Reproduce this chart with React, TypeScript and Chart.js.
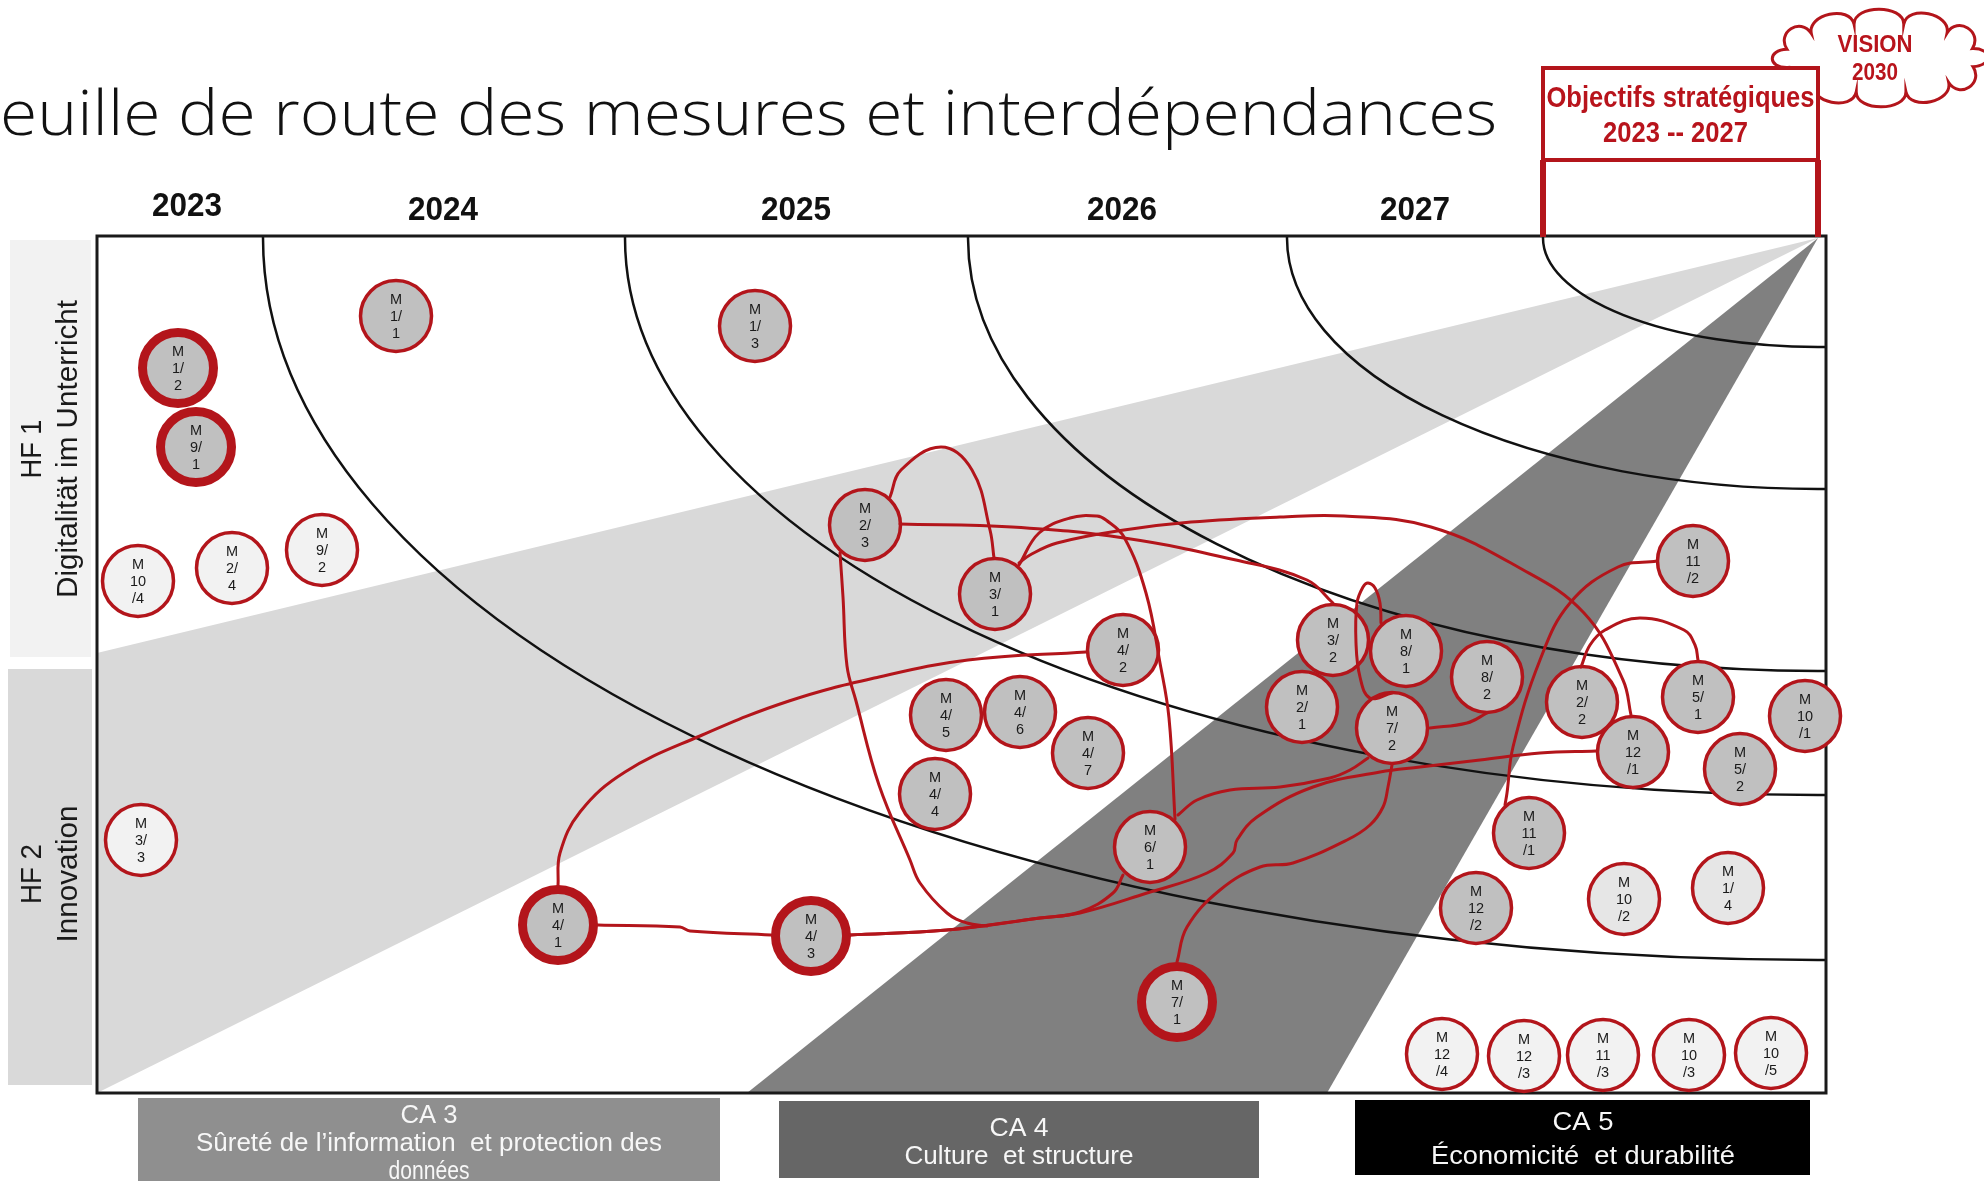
import React, { useEffect, useRef } from 'react';
import { Chart, registerables } from 'chart.js';

Chart.register(...registerables);

const RED = '#b3151b';
const RED_TEXT = '#b8141c';

// ---------- data (plot units: x 0..1729 left→right, y 0..857 top→bottom) ----------
const titleText = 'Feuille de route des mesures et interdépendances';
const titleVisible = 'euille de route des mesures et interdépendances';

const yearLabels = ['2023', '2024', '2025', '2026', '2027'];
const yearPositions = [90, 346, 699, 1025, 1318];
// where each year-ring meets the top edge and the right edge
const arcTopX = [166, 528, 871, 1190, 1446];
const arcRightY = [724, 559, 435, 253, 111];
const apexPoint = [1721, 2];
const lightBeam = [[1721, 2], [0, 417], [0, 857]];
const darkBeam = [[1721, 2], [650, 857], [1230, 857]];

const fieldLabels = [
  ['HF 1', 'Digitalität im Unterricht'],
  ['HF 2', 'Innovation'],
];
const areaLabels = [
  ['CA 3', 'Sûreté de l’information  et protection des', 'données'],
  ['CA 4', 'Culture  et structure'],
  ['CA 5', 'Économicité  et durabilité'],
];
const goalLabels = ['Objectifs stratégiques', '2023 -- 2027'];
const visionLabels = ['VISION', '2030'];

const measureIds = ['1/1', '1/2', '9/1', '10/4', '2/4', '9/2', '1/3', '2/3', '3/1', '4/2',
  '4/5', '4/6', '4/7', '4/4', '6/1', '4/1', '4/3', '7/1', '3/3', '3/2',
  '8/1', '2/1', '7/2', '8/2', '2/2', '12/1', '5/1', '10/1', '5/2', '11/2',
  '11/1', '12/2', '10/2', '1/4', '12/4', '12/3', '11/3', '10/3', '10/5'];
const measureX = [299, 81, 99, 41, 135, 225, 658, 768, 898, 1026,
  849, 923, 991, 838, 1053, 461, 714, 1080, 44, 1236,
  1309, 1205, 1295, 1390, 1485, 1536, 1601, 1708, 1643, 1596,
  1432, 1379, 1527, 1631, 1345, 1427, 1506, 1592, 1674];
const measureY = [80, 132, 211, 345, 332, 314, 90, 289, 358, 414,
  479, 476, 517, 558, 611, 689, 700, 766, 604, 404,
  415, 471, 492, 441, 466, 516, 461, 480, 533, 325,
  597, 672, 663, 652, 818, 820, 819, 819, 817];
// k = key measure (thick ring), b = grey, p = pale, c = light
const measureStatus = ['b', 'k', 'k', 'c', 'c', 'c', 'b', 'b', 'b', 'b',
  'b', 'b', 'b', 'b', 'b', 'k', 'k', 'k', 'c', 'b',
  'b', 'b', 'b', 'b', 'b', 'b', 'b', 'b', 'b', 'b',
  'b', 'b', 'p', 'p', 'c', 'c', 'c', 'c', 'c'];

// dependency links (points along each curve)
const link41to43 = [[501, 689], [583, 691], [593, 695], [674, 699]];
const link41to42 = [[461, 650], [463, 617], [483, 576], [528, 536], [603, 500], [692, 465], [782, 441], [871, 424], [989, 416]];
const link23to31 = [[793, 261], [804, 234], [844, 211], [875, 234], [893, 294], [897, 322]];
const link23to32 = [[803, 288], [915, 291], [1027, 302], [1139, 324], [1210, 344], [1236, 367]];
const link31to121 = [[922, 327], [933, 319], [960, 307], [1027, 294], [1094, 286], [1183, 281], [1247, 280], [1334, 291], [1421, 331], [1487, 377], [1526, 444], [1534, 479]];
const link31to61 = [[922, 329], [942, 297], [973, 282], [1000, 280], [1009, 284], [1027, 301], [1049, 357], [1063, 427], [1072, 482], [1078, 583]];
const link23to43 = [[743, 317], [746, 361], [750, 430], [759, 465], [782, 549], [813, 624], [823, 647], [850, 677], [870, 687], [890, 690]];
const link43to61 = [[753, 699], [850, 694], [943, 682], [983, 676], [1016, 657], [1026, 639]];
const link43to121 = [[753, 699], [850, 694], [943, 682], [983, 677], [1050, 657], [1110, 637], [1136, 617], [1140, 604], [1160, 581], [1216, 551], [1283, 536], [1323, 531], [1383, 524], [1443, 517], [1499, 515]];
const link61to72 = [[1081, 579], [1100, 564], [1133, 554], [1183, 551], [1233, 542], [1253, 534], [1271, 522]];
const link72to71 = [[1295, 529], [1291, 551], [1286, 571], [1273, 589], [1250, 604], [1196, 627], [1163, 631], [1123, 654], [1090, 691], [1080, 726]];
const link82to72 = [[1390, 477], [1370, 487], [1333, 492]];
const link72to81 = [[1295, 457], [1273, 462], [1263, 441], [1259, 407], [1260, 367], [1266, 351], [1271, 347], [1278, 352], [1283, 367], [1284, 387]];
const link22to51 = [[1484, 431], [1493, 409], [1508, 394], [1543, 382], [1587, 394], [1598, 409], [1601, 424]];
const link112to111 = [[1560, 325], [1521, 331], [1473, 367], [1443, 424], [1416, 511], [1410, 557], [1408, 569]];

const dependencyLinks = [link41to43, link41to42, link23to31, link23to32, link31to121, link31to61,
  link23to43, link43to61, link43to121, link61to72, link72to71, link82to72, link72to81, link22to51, link112to111];

// ---------- helpers ----------
const SANS = '"Liberation Sans", Arial, sans-serif';

function fillFor(s: string) {
  if (s === 'c') return '#f2f2f2';
  if (s === 'p') return '#e6e6e6';
  return '#c0c0c0';
}

function measureLines(id: string) {
  const [a, b] = id.split('/');
  return a.length > 1 ? ['M', a, '/' + b] : ['M', a + '/', b];
}

function text(ctx: CanvasRenderingContext2D, s: string, x: number, y: number, font: string, color: string,
  width?: number, align: CanvasTextAlign = 'center', rotate = 0) {
  ctx.save();
  ctx.font = font;
  ctx.fillStyle = color;
  ctx.textAlign = align;
  ctx.textBaseline = 'alphabetic';
  const k = width ? width / ctx.measureText(s).width : 1;
  ctx.translate(x, y);
  if (rotate) ctx.rotate(rotate);
  ctx.scale(k, 1);
  ctx.fillText(s, 0, 0);
  ctx.restore();
}

function cloudPath(ctx: CanvasRenderingContext2D, cx: number, cy: number, rx: number, ry: number, n: number, h: number) {
  ctx.beginPath();
  for (let i = 0; i < n; i++) {
    const a0 = (Math.PI * 2 * i) / n + 0.25;
    const a1 = (Math.PI * 2 * (i + 1)) / n + 0.25;
    const am = (a0 + a1) / 2;
    const x0 = cx + rx * Math.cos(a0), y0 = cy + ry * Math.sin(a0);
    const x1 = cx + rx * Math.cos(a1), y1 = cy + ry * Math.sin(a1);
    let nx = Math.cos(am) / rx, ny = Math.sin(am) / ry;
    const l = Math.hypot(nx, ny);
    nx /= l; ny /= l;
    if (i === 0) ctx.moveTo(x0, y0);
    ctx.bezierCurveTo(x0 + nx * h, y0 + ny * h, x1 + nx * h, y1 + ny * h, x1, y1);
  }
  ctx.closePath();
}

const roadmapPlugin = {
  id: 'roadmap',
  beforeDraw(chart: any) {
    const ctx: CanvasRenderingContext2D = chart.ctx;
    const xs = chart.scales.x;
    ctx.save();
    ctx.fillStyle = '#ffffff';
    ctx.fillRect(0, 0, chart.width, chart.height);

    // title (first letter runs off the page)
    ctx.font = `300 62px "Open Sans", ${SANS}`;
    const k = 1497 / ctx.measureText(titleVisible).width;
    ctx.save();
    ctx.translate(1497, 135);
    ctx.scale(k, 1);
    ctx.fillStyle = '#111';
    ctx.textAlign = 'right';
    ctx.fillText(titleText, 0, 0);
    ctx.restore();

    // year labels
    yearLabels.forEach((y, i) => {
      const cx = xs.getPixelForValue(yearPositions[i]);
      text(ctx, y, cx, i === 0 ? 216 : 220, `bold 34px ${SANS}`, '#111', 70);
    });

    // field panels on the left
    ctx.fillStyle = '#f2f2f2';
    ctx.fillRect(10, 240, 81, 417);
    ctx.fillStyle = '#d9d9d9';
    ctx.fillRect(8, 669, 84, 416);
    const fieldCy = [449, 874];
    const fieldW = [[59, 298], [60, 137]];
    fieldLabels.forEach((lines, i) => {
      text(ctx, lines[0], 41, fieldCy[i], `29px ${SANS}`, '#1a1a1a', fieldW[i][0], 'center', -Math.PI / 2);
      text(ctx, lines[1], 77, fieldCy[i], `29px ${SANS}`, '#1a1a1a', fieldW[i][1], 'center', -Math.PI / 2);
    });

    // cross-cutting areas at the bottom
    const areaRects = [[138, 1098, 582, 90, '#8f8f8f'], [779, 1101, 480, 77, '#666666'], [1355, 1100, 455, 75, '#000000']];
    const areaCx = [429, 1019, 1583];
    const areaBase = [[1123, 1151, 1179], [1136, 1164], [1130, 1164]];
    const areaW = [[57, 466, 81], [59, 229], [61, 304]];
    areaRects.forEach((r: any, i) => {
      ctx.fillStyle = r[4];
      ctx.fillRect(r[0], r[1], r[2], r[3]);
      areaLabels[i].forEach((s, j) => {
        text(ctx, s, areaCx[i], areaBase[i][j], `26px ${SANS}`, '#f7f7f7', areaW[i][j]);
      });
    });

    // vision cloud
    cloudPath(ctx, 1880, 58, 96, 35, 12, 20);
    ctx.fillStyle = '#fff';
    ctx.fill();
    ctx.strokeStyle = RED;
    ctx.lineWidth = 3;
    ctx.stroke();
    text(ctx, visionLabels[0], 1875, 52, `bold 24px ${SANS}`, RED_TEXT, 75);
    text(ctx, visionLabels[1], 1875, 80, `bold 24px ${SANS}`, RED_TEXT, 46);

    // strategic goals box
    const bx0 = xs.getPixelForValue(arcTopX[4]);
    const bx1 = xs.getPixelForValue(apexPoint[0]);
    ctx.fillStyle = '#fff';
    ctx.fillRect(bx0, 68, bx1 - bx0, 92);
    ctx.strokeStyle = RED;
    ctx.lineWidth = 4;
    ctx.strokeRect(bx0, 68, bx1 - bx0, 92);
    text(ctx, goalLabels[0], (bx0 + bx1) / 2, 107, `bold 30px ${SANS}`, RED_TEXT, 268);
    text(ctx, goalLabels[1], (bx0 + bx1) / 2 - 5, 142, `bold 30px ${SANS}`, RED_TEXT, 145);
    ctx.restore();
  },
  beforeDatasetsDraw(chart: any) {
    const ctx: CanvasRenderingContext2D = chart.ctx;
    const xs = chart.scales.x, ys = chart.scales.y;
    const a = chart.chartArea;
    const X = (v: number) => xs.getPixelForValue(v);
    const Y = (v: number) => ys.getPixelForValue(v);
    ctx.save();
    ctx.fillStyle = '#fff';
    ctx.fillRect(a.left, a.top, a.right - a.left, a.bottom - a.top);

    const poly = (pts: number[][], color: string) => {
      ctx.beginPath();
      pts.forEach(([x, y], i) => (i ? ctx.lineTo(X(x), Y(y)) : ctx.moveTo(X(x), Y(y))));
      ctx.closePath();
      ctx.fillStyle = color;
      ctx.fill();
    };
    poly(lightBeam, '#d9d9d9');
    poly(darkBeam, '#808080');

    // year rings: quarter ellipses around the apex
    const cx = X(apexPoint[0]), cy = Y(apexPoint[1]);
    ctx.strokeStyle = '#111';
    ctx.lineWidth = 2.5;
    arcTopX.forEach((tx, i) => {
      const rx = cx - X(tx);
      const ry = Y(arcRightY[i]) - cy;
      ctx.beginPath();
      ctx.moveTo(a.right, cy + ry);
      ctx.lineTo(cx, cy + ry);
      ctx.ellipse(cx, cy, rx, ry, 0, Math.PI / 2, Math.PI);
      ctx.lineTo(cx - rx, a.top);
      ctx.stroke();
    });

    ctx.strokeStyle = '#1a1a1a';
    ctx.lineWidth = 3;
    ctx.strokeRect(a.left, a.top, a.right - a.left, a.bottom - a.top);
    ctx.restore();
  },
  afterDatasetsDraw(chart: any) {
    const ctx: CanvasRenderingContext2D = chart.ctx;
    const meta = chart.getDatasetMeta(chart.data.datasets.length - 1);
    ctx.save();
    ctx.font = `14.5px ${SANS}`;
    ctx.fillStyle = '#1a1a1a';
    ctx.textAlign = 'center';
    ctx.textBaseline = 'middle';
    meta.data.forEach((el: any, i: number) => {
      const lines = measureLines(measureIds[i]);
      lines.forEach((s, j) => ctx.fillText(s, el.x, el.y + 1 + (j - 1) * 17));
    });
    ctx.restore();
  },
  afterDraw(chart: any) {
    const ctx: CanvasRenderingContext2D = chart.ctx;
    const xs = chart.scales.x;
    const a = chart.chartArea;
    const bx0 = xs.getPixelForValue(arcTopX[4]);
    const bx1 = xs.getPixelForValue(apexPoint[0]);
    ctx.save();
    ctx.strokeStyle = RED;
    ctx.lineWidth = 6;
    ctx.beginPath();
    ctx.moveTo(bx0, 160); ctx.lineTo(bx0, a.top + 1);
    ctx.moveTo(bx1, 160); ctx.lineTo(bx1, a.top + 1);
    ctx.stroke();
    ctx.restore();
  },
};

export default function App() {
  const ref = useRef<HTMLCanvasElement>(null);
  useEffect(() => {
    const canvas = ref.current;
    if (!canvas) return;
    const linkSets = dependencyLinks.map((pts, i) => ({
      label: 'link ' + i,
      data: pts.map(([x, y]) => ({ x, y })),
      showLine: true,
      tension: 0.4,
      borderColor: RED,
      borderWidth: 3,
      borderCapStyle: 'round',
      borderJoinStyle: 'round',
      pointRadius: 0,
      pointHoverRadius: 0,
      fill: false,
      clip: false,
      order: 1,
    }));
    const measureSet = {
      label: 'Mesures',
      data: measureX.map((x, i) => ({ x, y: measureY[i] })),
      showLine: false,
      pointStyle: 'circle',
      pointRadius: 35.5,
      pointHoverRadius: 35.5,
      pointBorderWidth: measureStatus.map((s) => (s === 'k' ? 9 : 3.5)),
      pointBackgroundColor: measureStatus.map(fillFor),
      pointBorderColor: RED,
      clip: false,
      order: 2,
    };
    const chart = new Chart(canvas, {
      type: 'scatter',
      data: { datasets: [...linkSets, measureSet] as any },
      options: {
        responsive: false,
        maintainAspectRatio: false,
        animation: false,
        devicePixelRatio: 1,
        events: [],
        layout: { padding: { left: 97, top: 236, right: 158, bottom: 88 } },
        plugins: { legend: { display: false }, tooltip: { enabled: false }, title: { display: false } },
        scales: {
          x: { type: 'linear', min: 0, max: 1729, display: false },
          y: { type: 'linear', min: 0, max: 857, reverse: true, display: false },
        },
      } as any,
      plugins: [roadmapPlugin],
    });
    return () => chart.destroy();
  }, []);
  return (
    <div style={{ position: 'fixed', left: 0, top: 0, width: 1984, height: 1181, background: '#fff' }}>
      <canvas ref={ref} width={1984} height={1181} style={{ width: 1984, height: 1181, display: 'block' }} />
    </div>
  );
}
